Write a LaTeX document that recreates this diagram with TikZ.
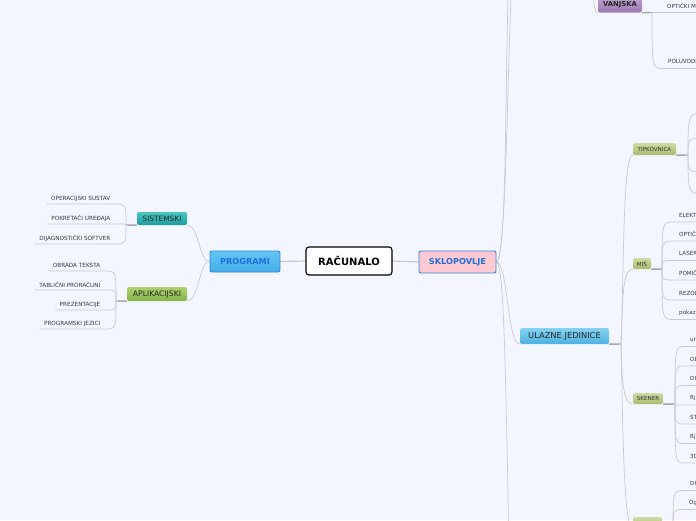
\documentclass[tikz,border=0pt]{standalone}
\usepackage{fontspec}
\setmainfont{DejaVu Sans}
\pgfdeclarelayer{bg}
\pgfsetlayers{bg,main}
\definecolor{bgc}{HTML}{F3F6FE}
\definecolor{linegray}{HTML}{CACACA}
\definecolor{stubgray}{HTML}{A6A6A6}
\definecolor{leaftext}{HTML}{3A3A3A}
\definecolor{bluetext}{HTML}{1F6FDC}
\definecolor{blueborder}{HTML}{3482E0}
\definecolor{tealtop}{HTML}{49C6C3}
\definecolor{tealbot}{HTML}{1D9E9E}
\definecolor{greentop}{HTML}{ADD270}
\definecolor{greenbot}{HTML}{86B34A}
\definecolor{olivetop}{HTML}{CEDCA2}
\definecolor{olivebot}{HTML}{A6BC6E}
\definecolor{skytop}{HTML}{86D2F2}
\definecolor{skybot}{HTML}{4DB1E2}
\definecolor{purpletop}{HTML}{BCA0CC}
\definecolor{purplebot}{HTML}{9A7AB2}
\definecolor{progtop}{HTML}{62C5F3}
\definecolor{progbot}{HTML}{45AEEA}
\definecolor{pinkfill}{HTML}{FFC9D3}
\tikzset{
  conn/.style={draw=linegray, line width=0.7pt},
  stub/.style={draw=stubgray, line width=1.4pt},
  rootline/.style={draw=linegray, line width=1.2pt},
  leafl/.style={font=\fontsize{5.7}{6}\selectfont, text=leaftext, inner xsep=4.5pt, inner ysep=0pt, minimum height=10pt, anchor=south east},
  leafr/.style={font=\fontsize{5.6}{6}\selectfont, text=leaftext, inner xsep=5pt, inner ysep=0pt, minimum height=13pt, anchor=south west},
  box/.style={rounded corners=2pt, inner sep=0pt},
  bluebox/.style={box, draw=blueborder, line width=0.9pt, text=bluetext, font=\fontsize{8.2}{9}\selectfont\bfseries},
  tealbox/.style={box, top color=tealtop, bottom color=tealbot, text=black!85, font=\fontsize{7.4}{8}\selectfont},
  greenbox/.style={box, top color=greentop, bottom color=greenbot, text=black!85, font=\fontsize{7.6}{8}\selectfont},
  olivebox/.style={box, top color=olivetop, bottom color=olivebot, text=black!80, font=\fontsize{5.6}{6}\selectfont},
  skybox/.style={box, top color=skytop, bottom color=skybot, text=black!85, font=\fontsize{8.3}{9}\selectfont},
  purplebox/.style={box, top color=purpletop, bottom color=purplebot, text=black!85, font=\fontsize{6.8}{7}\selectfont\bfseries},
}
\begin{document}
\begin{tikzpicture}[x=1pt,y=-1pt]
\useasboundingbox (0,0) rectangle (696,520);
\begin{pgfonlayer}{bg}
\fill[bgc] (0,0) rectangle (696,520);
\end{pgfonlayer}
\clip (0,0) rectangle (696,520);

% central and main nodes
\node[box, draw=black, line width=1.1pt, fill=white, rounded corners=3pt, minimum width=86pt, minimum height=28pt, font=\fontsize{10}{12}\selectfont\bfseries] (rac) at (349,261) {RAČUNALO};
\node[bluebox, top color=progtop, bottom color=progbot, minimum width=70pt, minimum height=21pt] (prog) at (245,261.5) {PROGRAMI};
\node[bluebox, fill=pinkfill, minimum width=77pt, minimum height=22pt] (sklop) at (457.5,262) {SKLOPOVLJE};

% left children
\node[tealbox, minimum width=50pt, minimum height=13pt] (sis) at (162,218.5) {SISTEMSKI};
\node[greenbox, minimum width=60pt, minimum height=14pt] (apl) at (157,294) {APLIKACIJSKI};
\coordinate (js) at (126,225);
\coordinate (ja) at (116,301);

\node[leafl] (s1) at (115,204) {OPERACIJSKI SUSTAV};
\node[leafl] (s2) at (115,224) {POKRETAČI UREĐAJA};
\node[leafl] (s3) at (115,244) {DIJAGNOSTIČKI SOFTVER};
\node[leafl] (a1) at (105,271) {OBRADA TEKSTA};
\node[leafl] (a2) at (105,290) {TABLIČNI PRORAČUNI};
\node[leafl] (a3) at (105,310) {PREZENTACIJE};
\node[leafl] (a4) at (105,329) {PROGRAMSKI JEZICI};

% right side
\node[purplebox, minimum width=44pt, minimum height=15pt] (vanj) at (620,5) {VANJSKA};
\node[skybox, minimum width=89pt, minimum height=16pt] (ul) at (564.5,336) {ULAZNE JEDINICE};
\node[olivebox, minimum width=43pt, minimum height=12pt] (tip) at (654.5,149) {TIPKOVNICA};
\node[olivebox, minimum width=18pt, minimum height=11pt] (mis) at (642,263.5) {MIŠ};
\node[olivebox, minimum width=30pt, minimum height=11pt] (sken) at (648,398.5) {SKENER};
\node[olivebox, minimum width=29pt, minimum height=12pt] (bot) at (647.5,523) {};

\coordinate (jv) at (652,12.5);
\coordinate (ju) at (621,344);
\coordinate (jt) at (688,155);
\coordinate (jm) at (662,269);
\coordinate (jsk) at (675,404);
\coordinate (jb) at (673,529);
\coordinate (top1) at (508,-3);
\coordinate (top2) at (511,-3);
\coordinate (bot1) at (508.5,523);
\coordinate (vin) at (593,-3);
\coordinate (t1) at (706,113);
\coordinate (t2) at (706,138);
\coordinate (t3) at (706,172);
\coordinate (t4) at (706,194);

\node[leafr] (v1) at (662,12.5) {OPTIČKI M};
\node[leafr] (v2) at (663,68.5) {POLUVODI};

\node[leafr] (m1) at (674,222) {ELEKT};
\node[leafr] (m2) at (674,241) {OPTIČ};
\node[leafr] (m3) at (674,260.5) {LASER};
\node[leafr] (m4) at (674,280) {POMIČ};
\node[leafr] (m5) at (674,300) {REZOL};
\node[leafr] (m6) at (674,319.5) {pokazi};

\node[leafr] (k1) at (685,346.5) {ur};
\node[leafr] (k2) at (685,366) {Ob};
\node[leafr] (k3) at (685,385.5) {DI};
\node[leafr] (k4) at (685,405) {Rj};
\node[leafr] (k5) at (685,424) {ST};
\node[leafr] (k6) at (685,443.5) {Rj};
\node[leafr] (k7) at (685,463) {3D};

\node[leafr] (b1) at (685,490.5) {DI};
\node[leafr] (b2) at (684,509.5) {Og};

\begin{pgfonlayer}{bg}
\draw[rootline] (rac.west) -- (prog.east);
\draw[rootline] (rac.east) -- (sklop.west);
\draw[conn] (prog.west) .. controls (199,261.5) and (199,225) .. (sis.south east);
\draw[conn] (prog.west) .. controls (199,261.5) and (199,301) .. (apl.south east);
\draw[stub] (sis.south west) -- (js);
\draw[stub] (apl.south west) -- (ja);
\foreach \l in {s1,s2,s3}{
  \draw[conn] (\l.south west) -- (\l.south east) .. controls (js |- \l.south east) .. (js);
}
\foreach \l in {a1,a2,a3,a4}{
  \draw[conn] (\l.south west) -- (\l.south east) .. controls (ja |- \l.south east) .. (ja);
}
% SKLOPOVLJE branches
\draw[conn] (sklop.east) .. controls (506,258) and (505,120) .. (top1);
\draw[conn] (sklop.east) .. controls (506,258) and (507,90) .. (top2);
\draw[conn] (sklop.east) .. controls (503,266) and (505,330) .. (bot1);
\draw[conn] (sklop.east) .. controls (508,262) and (507,344) .. (ul.south west);
% VANJSKA
\draw[conn] (vin) .. controls (595,8) and (594,12.5) .. (vanj.south west);
\draw[stub] (vanj.south east) -- (jv);
\foreach \l in {v1,v2}{
  \draw[conn] (jv) .. controls (jv |- \l.south west) .. (\l.south west) -- (\l.south east);
}
% ULAZNE JEDINICE
\draw[stub] (ul.south east) -- (ju);
\draw[conn] (ju) .. controls (624,260) and (623,155) .. (tip.south west);
\draw[conn] (ju) .. controls (623,300) and (622,269) .. (mis.south west);
\draw[conn] (ju) .. controls (622,380) and (623,404) .. (sken.south west);
\draw[conn] (ju) .. controls (623,440) and (624,529) .. (bot.south west);
\draw[stub] (tip.south east) -- (jt);
\draw[stub] (mis.south east) -- (jm);
\draw[stub] (sken.south east) -- (jsk);
\draw[stub] (bot.south east) -- (jb);
\foreach \t in {t1,t2,t3,t4}{
  \draw[conn] (jt) .. controls (jt |- \t) .. (\t);
}
\foreach \l in {m1,m2,m3,m4,m5,m6}{
  \draw[conn] (jm) .. controls (jm |- \l.south west) .. (\l.south west) -- (\l.south east);
}
\foreach \l in {k1,k2,k3,k4,k5,k6,k7}{
  \draw[conn] (jsk) .. controls (jsk |- \l.south west) .. (\l.south west) -- (\l.south east);
}
\foreach \l in {b1,b2}{
  \draw[conn] (jb) .. controls (jb |- \l.south west) .. (\l.south west) -- (\l.south east);
}
\end{pgfonlayer}
\end{tikzpicture}
\end{document}
